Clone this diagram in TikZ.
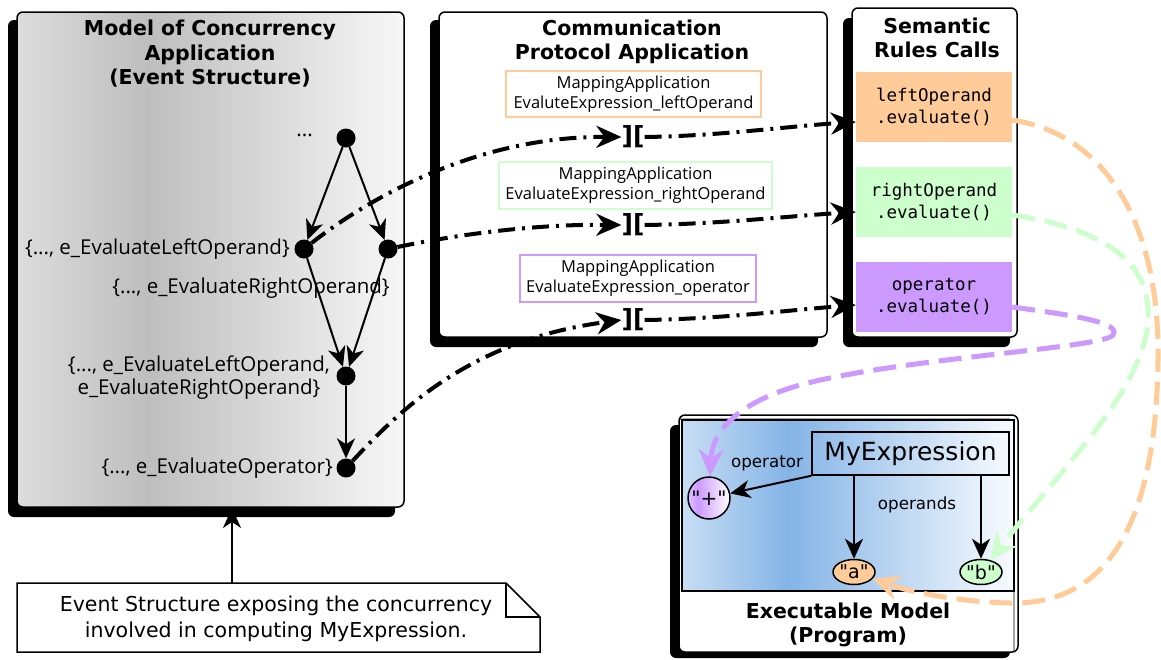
\documentclass[tikz,border=0pt]{standalone}
\usepackage{fontspec}
\setmainfont{DejaVu Sans}
\setmonofont{DejaVu Sans Mono}
\newfontfamily\ub{Open Sans}
\newfontfamily\qfont{DejaVu Sans}[Ligatures=TeXOff]
\usetikzlibrary{arrows.meta,shapes.geometric,calc}
\definecolor{orng}{HTML}{FFCC99}
\definecolor{grn}{HTML}{CCFFCC}
\definecolor{prp}{HTML}{CC99FF}
\definecolor{ga}{HTML}{DCDCDC}
\definecolor{gb}{HTML}{BEBEBE}
\definecolor{gc}{HTML}{F7F7F7}
\definecolor{ba}{HTML}{C8DEF4}
\definecolor{bb}{HTML}{84B4E6}
\definecolor{bc}{HTML}{F8FBFF}
\pgfdeclarehorizontalshading{greyshade}{100bp}{color(0bp)=(ga);color(25bp)=(ga);color(42bp)=(gb);color(75bp)=(gc);color(100bp)=(gc)}
\pgfdeclarehorizontalshading{blueshade}{100bp}{color(0bp)=(ba);color(25bp)=(ba);color(41bp)=(bb);color(75bp)=(bc);color(100bp)=(bc)}
\pgfdeclarehorizontalshading{purpshade}{100bp}{color(0bp)=(prp!60);color(25bp)=(prp!60);color(37bp)=(prp);color(75bp)=(white);color(100bp)=(white)}
\tikzset{
  ttl/.style={font=\fontsize{20.5}{24.5}\selectfont\bfseries, align=center, inner sep=0pt},
  evlbl/.style={font=\ub\fontsize{20.5}{23}\selectfont, align=center, inner sep=0pt},
  mbox/.style={font=\ub\fontsize{16.5}{20}\selectfont, align=center, inner sep=0pt, line width=2pt, fill=white},
  sbox/.style={font=\ttfamily\fontsize{17.5}{22}\selectfont, align=center, inner sep=0pt, minimum width=156pt, minimum height=70pt},
  dot/.style={circle, fill=black, minimum size=19pt, inner sep=0pt},
  junc/.style={font=\fontsize{25}{25}\selectfont\bfseries, inner sep=0pt},
  garrow/.style={-{Stealth[length=20pt,width=18pt,inset=6pt]}, line width=2pt},
  dd/.style={line width=4pt, dash pattern=on 17pt off 7pt on 3pt off 7pt},
  ddtip/.style={dd, -{Stealth[length=25pt,width=22pt,inset=8pt]}},
  cdash/.style={line width=5pt, dash pattern=on 23pt off 10pt, -{Stealth[length=27pt,width=25pt,inset=9pt]}},
  shad/.style={fill=black, rounded corners=6pt},
  pan/.style={draw=black, line width=1.5pt, rounded corners=6pt},
  small/.style={font=\fontsize{16.7}{20}\selectfont, inner sep=0pt},
  leaf/.style={draw=black, line width=1.5pt, inner sep=0pt, font=\qfont\fontsize{19}{19}\selectfont}
}
\begin{document}
\begin{tikzpicture}[x=1pt,y=-1pt]
\useasboundingbox (0,0) rectangle (1161,659);
% ---------- left panel
\fill[shad] (8,20) rectangle (395,517);
\shadedraw[shading=greyshade, pan] (17,12) rectangle (404,507);
\node[ttl] (t1) at (210,54) {Model of Concurrency\\Application\\(Event Structure)};
% ---------- communication panel
\fill[shad] (430,20) rectangle (818,347);
\filldraw[fill=white, pan] (439,12) rectangle (827,337);
\node[ttl] (t2) at (632,42) {Communication\\Protocol Application};
% ---------- semantic panel
\fill[shad] (843,18) rectangle (1010,347);
\filldraw[fill=white, pan] (852,8) rectangle (1017,337);
\node[ttl] (t3) at (937,38) {Semantic\\Rules Calls};
% ---------- executable panel
\fill[shad] (670,425) rectangle (1010,658);
\filldraw[fill=white, pan] (679,415) rectangle (1018,652);
\draw[line width=0.8pt, rounded corners=5pt] (679,419) -- (1014,419) -- (1014,652);
\shadedraw[shading=blueshade, draw=black, line width=1.5pt] (682,420) rectangle (1014,591);
\node[ttl] (t4) at (848,625) {Executable Model\\(Program)};
% ---------- event structure
\node[dot] (e0) at (346,138) {};
\node[dot] (eL) at (304,249) {};
\node[dot] (eR) at (388,249) {};
\node[dot] (eLR) at (346,376) {};
\node[dot] (eOp) at (346,468) {};
\node[evlbl, anchor=east] (l0) at (313,135) {...};
\node[evlbl, anchor=east] (lL) at (290,249) {\{..., e\_EvaluateLeftOperand\}};
\node[evlbl] (lR) at (251,288) {\{..., e\_EvaluateRightOperand\}};
\node[evlbl] (lLR) at (199,378) {\{..., e\_EvaluateLeftOperand,\\e\_EvaluateRightOperand\}};
\node[evlbl, anchor=east] (lOp) at (333,468) {\{..., e\_EvaluateOperator\}};
\draw[garrow] (e0) -- (eL);
\draw[garrow] (e0) -- (eR);
\draw[garrow] (eL) -- (eLR);
\draw[garrow] (eR) -- (eLR);
\draw[garrow] (eLR) -- (eOp);
% ---------- mapping boxes
\node[mbox, draw=orng, minimum width=255pt, minimum height=46pt] (m1) at (633.5,94) {MappingApplication\\EvaluteExpression\_leftOperand};
\node[mbox, draw=grn, minimum width=273pt, minimum height=47pt] (m2) at (635.5,185.5) {MappingApplication\\EvaluateExpression\_rightOperand};
\node[mbox, draw=prp, minimum width=236pt, minimum height=47pt] (m3) at (638,278.5) {MappingApplication\\EvaluateExpression\_operator};
% ---------- junctions
\node[junc] (j1) at (633,137) {][};
\node[junc] (j2) at (633,225) {][};
\node[junc] (j3) at (633,320) {][};
% ---------- semantic boxes
\node[sbox, fill=orng] (s1) at (934,107) {leftOperand\\.evaluate()};
\node[sbox, fill=grn] (s2) at (934,202) {rightOperand\\.evaluate()};
\node[sbox, fill=prp] (s3) at (934,297) {operator\\.evaluate()};
% ---------- dash-dot connectors
\draw[ddtip] (eL) .. controls (360,205) and (470,136) .. (j1.west);
\draw[ddtip] (j1.east) .. controls (720,136) and (790,126) .. ([yshift=-15pt]s1.west);
\draw[ddtip] (eR) .. controls (450,236) and (530,224) .. (j2.west);
\draw[ddtip] (j2.east) .. controls (720,224) and (790,216) .. ([yshift=-10pt]s2.west);
\draw[ddtip] (eOp) .. controls (400,410) and (470,340) .. (j3.west);
\draw[ddtip] (j3.east) .. controls (720,319) and (790,310) .. ([yshift=-8pt]s3.west);
% ---------- executable model content
\node[draw=black, line width=1.5pt, minimum width=197pt, minimum height=43pt, inner sep=0pt, font=\fontsize{25}{25}\selectfont] (me) at (910.5,453.5) {MyExpression};
\node[leaf, circle, shading=purpshade, minimum size=42pt, font=\qfont\fontsize{20}{20}\selectfont] (pl) at (709,498) {"+"};
\node[leaf, ellipse, fill=orng, minimum width=42pt, minimum height=25pt] (na) at (854,572) {"a"};
\node[leaf, ellipse, fill=grn, minimum width=42pt, minimum height=25pt] (nb) at (981,572) {"b"};
\node[small] (lop) at (767,463) {operator};
\node[small] (lops) at (917,505) {operands};
\draw[garrow] (me.south west) -- (pl);
\draw[garrow] (na |- me.south) -- (na);
\draw[garrow] (nb |- me.south) -- (nb);
% ---------- coloured dashed curves
\draw[cdash, orng] ([yshift=-13pt]s1.east) .. controls (1110,135) and (1160,230) .. (1158,360) .. controls (1156,520) and (1110,605) .. (1010,603) .. controls (960,602) and (910,592) .. (na);
\draw[cdash, grn] ([yshift=-13pt]s2.east) .. controls (1100,228) and (1152,260) .. (1148,320) .. controls (1144,390) and (1060,470) .. (nb);
\draw[cdash, prp] ([yshift=-10pt]s3.east) .. controls (1070,315) and (1122,322) .. (1113,335) .. controls (1105,348) and (900,358) .. (800,385) .. controls (740,402) and (712,430) .. (pl);
% ---------- note
\draw[line width=1.5pt, fill=white] (17,583) -- (506,583) -- (540,617) -- (540,652) -- (17,652) -- cycle;
\draw[line width=1.5pt] (506,583) -- (506,617) -- (540,617);
\node[font=\fontsize{20.5}{26}\selectfont, align=center, inner sep=0pt] (note) at (276,619) {Event Structure exposing the concurrency\\involved in computing MyExpression.};
\coordinate (notetop) at (232,583);
\coordinate (lpb) at (232,508);
\draw[garrow] (notetop) -- (lpb);
\end{tikzpicture}
\end{document}
